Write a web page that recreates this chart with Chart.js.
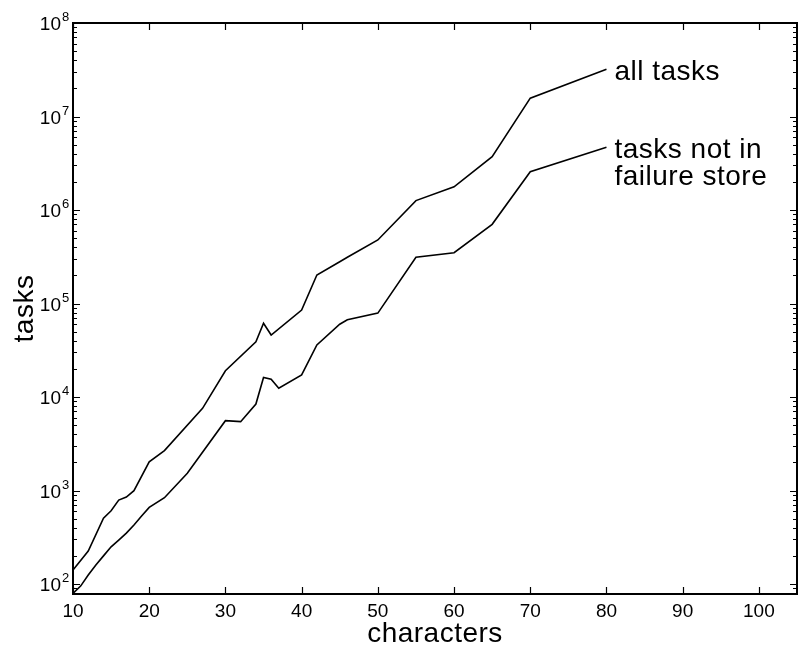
<!DOCTYPE html>
<html>
<head>
<meta charset="utf-8">
<script src="https://cdn.jsdelivr.net/npm/chart.js@4.4.1/dist/chart.umd.min.js"></script>
<style>
html,body{margin:0;padding:0;background:#fff;}
canvas{display:block;}
</style>
</head>
<body>
<canvas id="c" width="800" height="656"></canvas>
<script>
// ---- data ----
const allX = [10,12,14,15,16,17,18,20,22,27,30,34,35,36,40,42,45,46,50,55,60,65,70,80];
const allTasks = [141,225,505,608,790,850,995,2030,2670,7570,19100,39000,61400,46000,85000,202000,280000,312000,478000,1260000,1770000,3720000,15700000,32000000];
const notStoreX = [10,11,12,13,14,15,16,17,18,19,20,22,25,30,32,34,35,36,37,40,42,45,46,50,55,60,65,70,80];
const notStore = [79.5,95,125,160,200,250,295,350,428,533,660,838,1530,5580,5450,8400,16200,15500,12400,17200,36000,60000,67000,79000,312000,349000,703000,2570000,4680000];
const xTicks = [10,20,30,40,50,60,70,80,90,100];
const yExponents = [2,3,4,5,6,7,8];
const seriesLabels = [["all tasks"],["tasks not in","failure store"]];
const xTitle = "characters";
const yTitle = "tasks";

const FONT = "'Liberation Sans', Helvetica, Arial, sans-serif";

const deco = {
  id: 'deco',
  afterDraw(chart) {
    const ctx = chart.ctx;
    const a = chart.chartArea;
    const xs = chart.scales.x, ys = chart.scales.y;
    ctx.save();
    ctx.strokeStyle = '#000';
    ctx.fillStyle = '#000';
    // box
    ctx.lineWidth = 2;
    ctx.strokeRect(a.left, a.top, a.right - a.left, a.bottom - a.top);
    // x ticks (bottom and top)
    ctx.lineWidth = 1.2;
    ctx.beginPath();
    xTicks.forEach(v => {
      const px = Math.round(xs.getPixelForValue(v)) + 0.5;
      ctx.moveTo(px, a.bottom); ctx.lineTo(px, a.bottom - 7);
      ctx.moveTo(px, a.top); ctx.lineTo(px, a.top + 7);
    });
    // y ticks major + minor (left and right)
    for (let e = 1; e <= 8; e++) {
      for (let m = 1; m <= 9; m++) {
        const v = m * Math.pow(10, e);
        if (v < ys.min || v > ys.max) continue;
        const py = Math.round(ys.getPixelForValue(v)) + 0.5;
        const len = m === 1 ? 7 : 4;
        ctx.moveTo(a.left, py); ctx.lineTo(a.left + len, py);
        ctx.moveTo(a.right, py); ctx.lineTo(a.right - len, py);
      }
    }
    ctx.stroke();
    // x tick labels
    ctx.font = '19px ' + FONT;
    ctx.textAlign = 'center';
    ctx.textBaseline = 'alphabetic';
    xTicks.forEach(v => {
      ctx.fillText(String(v), xs.getPixelForValue(v), 617);
    });
    // y tick labels 10^n
    yExponents.forEach(e => {
      const py = ys.getPixelForValue(Math.pow(10, e));
      ctx.font = '19px ' + FONT;
      ctx.textAlign = 'right';
      ctx.fillText('10', a.left - 12, py + 7);
      ctx.font = '13px ' + FONT;
      ctx.textAlign = 'left';
      ctx.fillText(String(e), a.left - 11, py - 2);
    });
    // titles
    ctx.font = '28px ' + FONT;
    if ('letterSpacing' in ctx) ctx.letterSpacing = '0.5px';
    ctx.textAlign = 'center';
    ctx.fillText(xTitle, (a.left + a.right) / 2, 642);
    ctx.save();
    ctx.translate(33, (a.top + a.bottom) / 2);
    ctx.rotate(-Math.PI / 2);
    ctx.fillText(yTitle, 0, 0);
    ctx.restore();
    // series annotations
    ctx.textAlign = 'left';
    const ends = [[allX, allTasks],[notStoreX, notStore]];
    ends.forEach((d, i) => {
      const lx = d[0][d[0].length - 1], ly = d[1][d[1].length - 1];
      const px = xs.getPixelForValue(lx) + 8;
      const py = ys.getPixelForValue(ly) + 11;
      seriesLabels[i].forEach((t, j) => ctx.fillText(t, px, py + j * 27));
    });
    ctx.restore();
  }
};

new Chart(document.getElementById('c'), {
  type: 'line',
  data: {
    datasets: [
      { data: allX.map((x, i) => ({x, y: allTasks[i]})), borderColor: '#000', borderWidth: 1.6, pointRadius: 0, tension: 0, fill: false },
      { data: notStoreX.map((x, i) => ({x, y: notStore[i]})), borderColor: '#000', borderWidth: 1.6, pointRadius: 0, tension: 0, fill: false }
    ]
  },
  options: {
    responsive: false,
    animation: false,
    events: [],
    layout: { padding: { left: 73, top: 23, right: 3, bottom: 62 } },
    plugins: { legend: { display: false }, tooltip: { enabled: false } },
    scales: {
      x: { type: 'linear', min: 10, max: 105, display: false },
      y: { type: 'logarithmic', min: 78.2, max: 1e8, display: false }
    }
  },
  plugins: [deco]
});
</script>
</body>
</html>
